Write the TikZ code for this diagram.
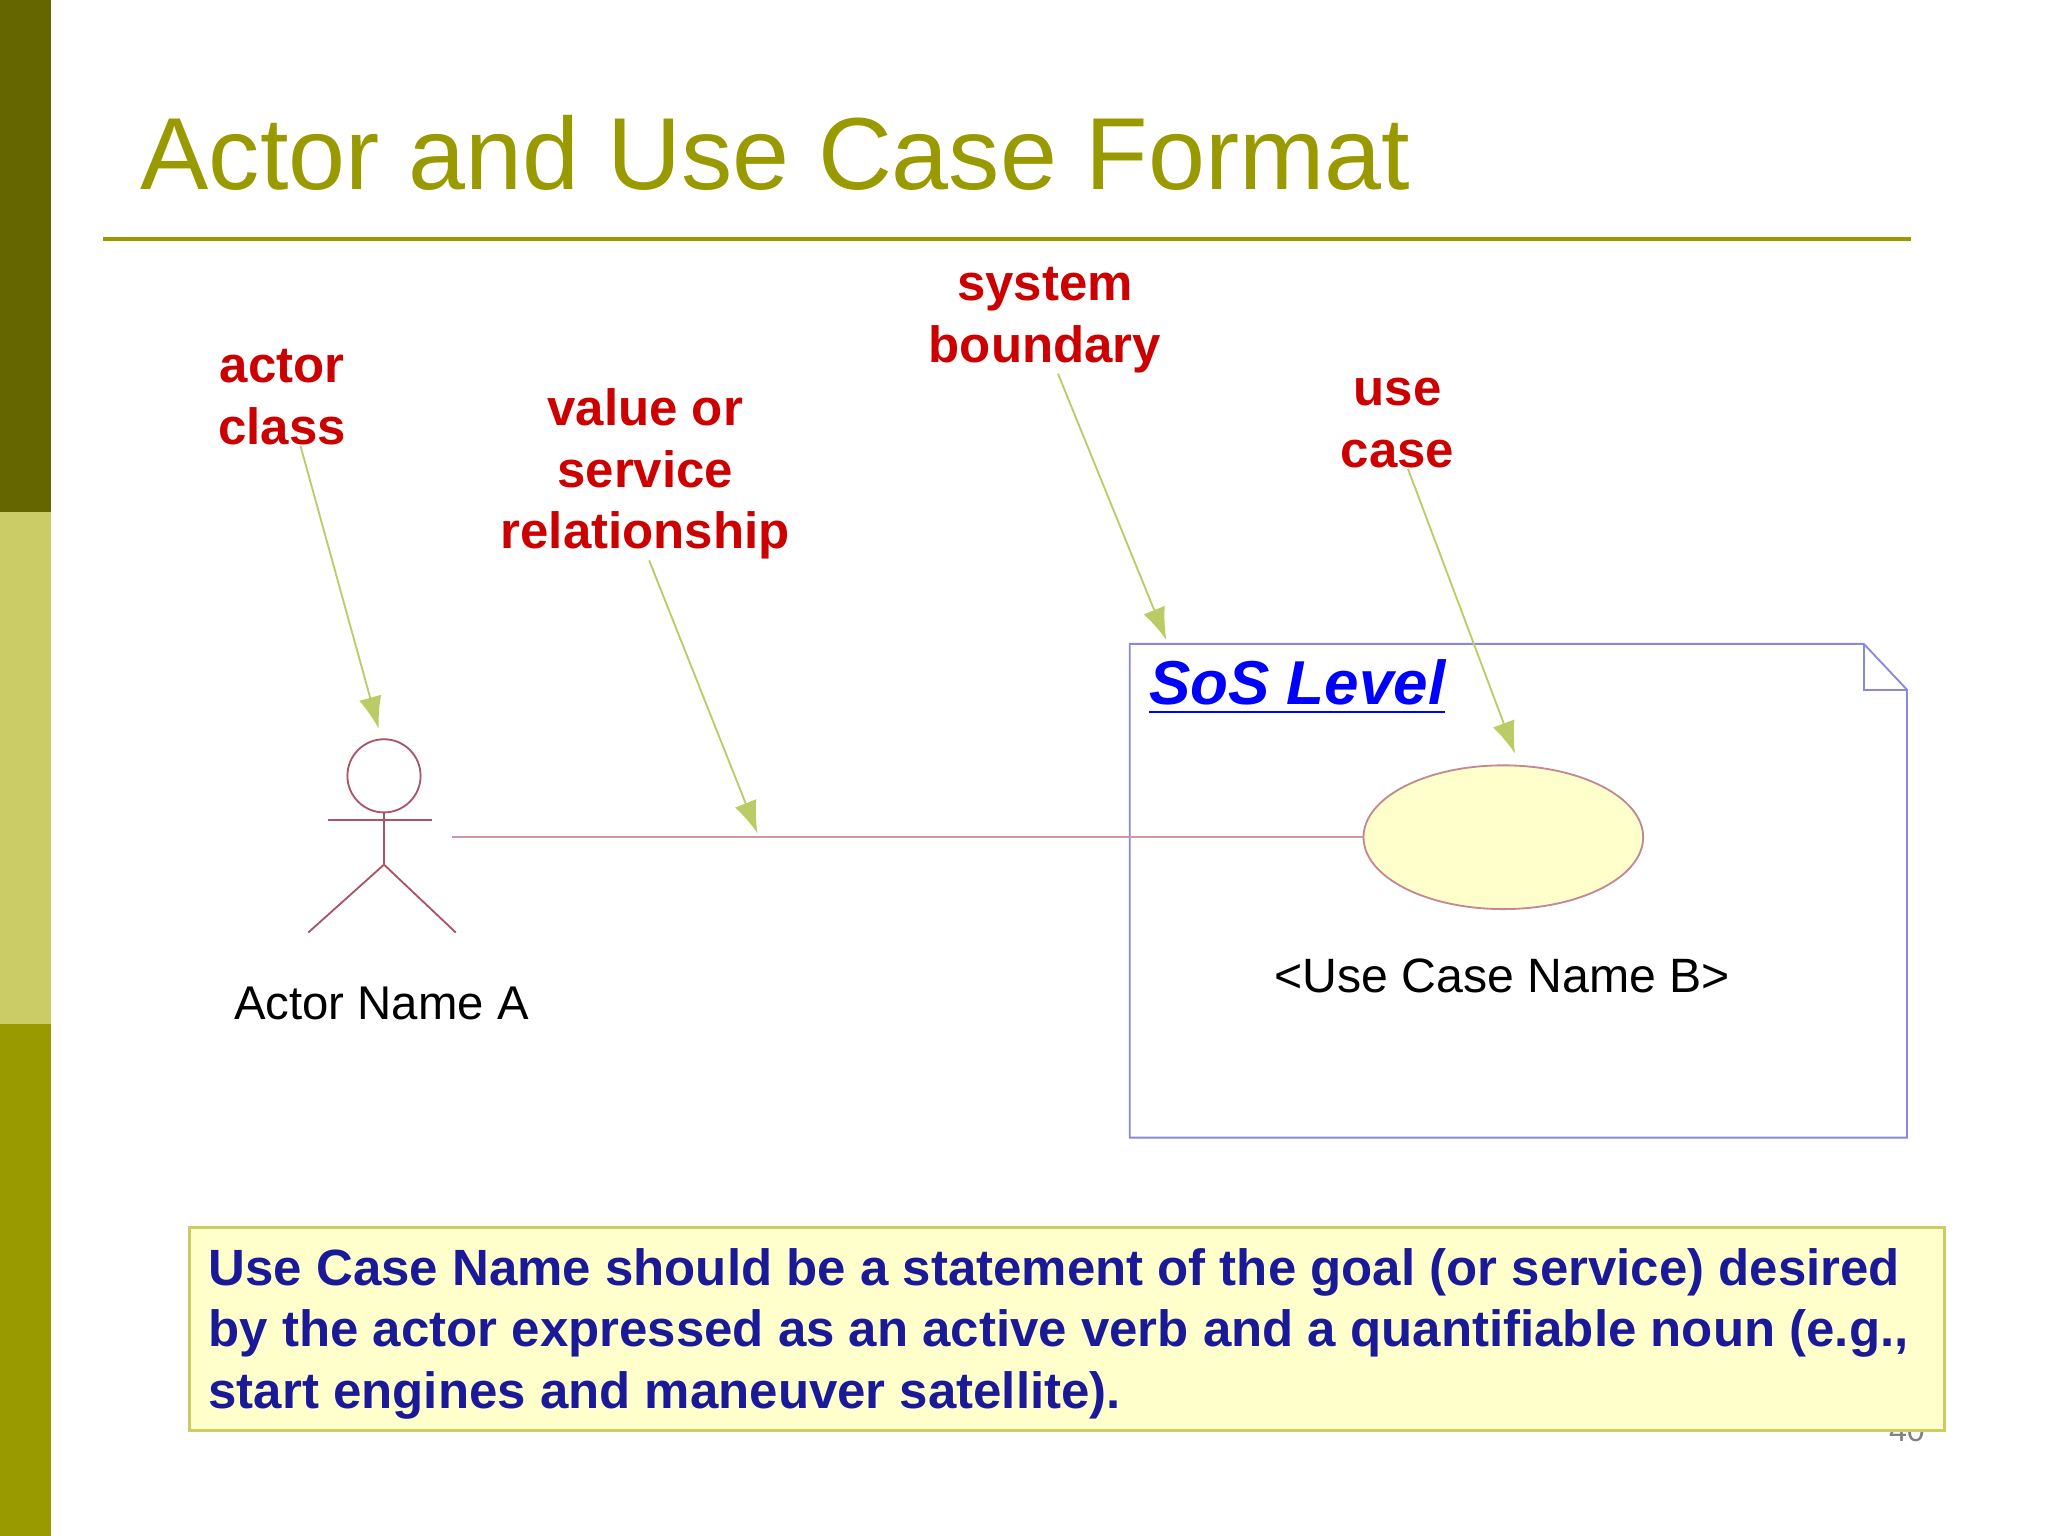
\documentclass[tikz,border=0pt]{standalone}
\usepackage{fontspec}
\setmainfont{Liberation Sans}
\usetikzlibrary{arrows.meta,shapes.geometric}
\definecolor{olive}{HTML}{999900}
\definecolor{darkolive}{HTML}{666600}
\definecolor{lightolive}{HTML}{CCCC66}
\definecolor{labelred}{HTML}{CC0000}
\definecolor{pointer}{HTML}{BBCC66}
\definecolor{actorred}{HTML}{AA5566}
\definecolor{boundary}{HTML}{8888DD}
\definecolor{paleyellow}{HTML}{FFFFCC}
\definecolor{navy}{HTML}{1A1A99}
\tikzset{
  callout/.style={text=labelred, font=\fontsize{11.1}{13.4}\selectfont\bfseries, align=center, inner sep=0pt},
  pointer/.style={draw=pointer, -{Latex[length=7pt,width=5pt]}},
  actorline/.style={draw=actorred, line width=0.4pt}
}
\begin{document}
\begin{tikzpicture}[x=0.01cm, y=-0.01cm]
    \useasboundingbox (0,0) rectangle (1568,1176);
    \fill[white] (0,0) rectangle (1568,1176);
    \fill[darkolive] (0,0) rectangle (39,392);
    \fill[lightolive] (0,392) rectangle (39,784);
    \fill[olive] (0,784) rectangle (39,1176);

    % title
    \node[anchor=base west, text=olive, font=\fontsize{22.3}{26}\selectfont, inner sep=0pt] (title) at (107,145) {Actor and Use Case Format};
    \draw[olive, line width=1pt] (79,183) -- (1463,183);

    % callout labels
    \node[callout] (actorlbl) at (216,304) {actor\\class};
    \node[callout] (valuelbl) at (494,363) {value or\\service\\relationship};
    \node[callout] (systemlbl) at (800,245) {system\\boundary};
    \node[callout] (uselbl) at (1070,324) {use\\case};

    % system boundary
    \draw[boundary, line width=0.4pt] (865,493) -- (1427,493) -- (1460,528) -- (1460,871) -- (865,871) -- cycle;
    \draw[boundary, line width=0.4pt] (1427,493) -- (1427,528) -- (1460,528);
    \node[anchor=west, text=blue, font=\fontsize{13.5}{16}\selectfont\bfseries\itshape, inner sep=0pt] (sos) at (879,526) {\underline{SoS Level}};

    % actor
    \node[circle, actorline, minimum size=0.56cm, inner sep=0pt] (head) at (294,594) {};
    \coordinate (hip) at (294,662);
    \coordinate (lhand) at (251,628);
    \coordinate (rhand) at (331,628);
    \coordinate (lfoot) at (236,714);
    \coordinate (rfoot) at (349,714);
    \draw[actorline] (head) -- (hip);
    \draw[actorline] (lhand) -- (rhand);
    \draw[actorline] (lfoot) -- (hip) -- (rfoot);
    \node[font=\fontsize{10.3}{12}\selectfont, inner sep=0pt] (actorname) at (292,768) {Actor Name A};

    % use case
    \node[ellipse, draw=actorred!70, fill=paleyellow, minimum width=2.14cm, minimum height=1.1cm, line width=0.4pt] (uc) at (1151,641) {};
    \node[font=\fontsize{10.5}{12}\selectfont, inner sep=0pt] (ucname) at (1150,747) {<Use Case Name B>};

    % association
    \coordinate (actorend) at (346,641);
    \draw[actorline, draw=actorred!60] (actorend) -- (uc.west);

    % pointers
    \draw[pointer] (actorlbl.south) ++(14,0) -- (290,558);
    \draw[pointer] (valuelbl.south) ++(3,0) -- (580,638);
    \draw[pointer] (systemlbl.south) ++(10,0) -- (893,490);
    \draw[pointer] (uselbl.south) ++(8,0) -- (1160,577);

    % page number and note
    \node[text=gray, font=\fontsize{7}{8}\selectfont] (page) at (1460,1095) {40};
    \draw[lightolive, fill=paleyellow, line width=0.6pt] (145,940) rectangle (1489,1095);
    \node[anchor=north west, align=left, text=navy, font=\fontsize{11.1}{13.4}\selectfont\bfseries, inner sep=0pt] (note) at (159,955) {Use Case Name should be a statement of the goal (or service) desired\\by the actor expressed as an active verb and a quantifiable noun (e.g.,\\start engines and maneuver satellite).};
\end{tikzpicture}
\end{document}
